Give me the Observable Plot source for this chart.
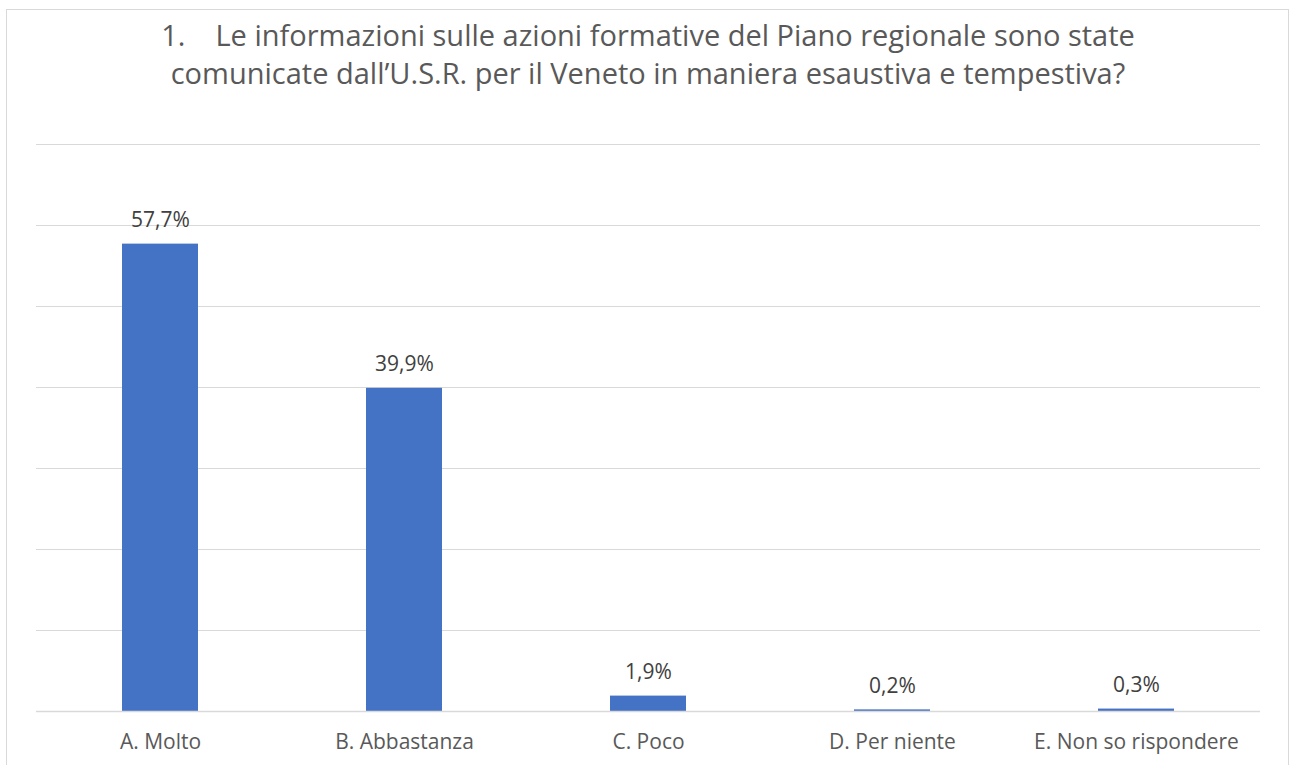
<!DOCTYPE html>
<html>
<head>
<meta charset="utf-8">
<script src="https://cdn.jsdelivr.net/npm/d3@7"></script>
<script src="https://cdn.jsdelivr.net/npm/@observablehq/plot@0.6"></script>
<style>
  html, body { margin: 0; padding: 0; background: #fff; width: 1292px; height: 765px; overflow: hidden; }
  #frame { position: absolute; left: 6px; top: 9px; width: 1283px; height: 800px; border: 1px solid #d9d9d9; box-sizing: border-box; }
  #title { position: absolute; left: 6px; top: 16px; width: 1284px; text-align: center; font-family: "Open Sans", sans-serif; font-size: 29px; line-height: 38px; color: #595959; white-space: pre; }
  #chart { position: absolute; left: 0; top: 130px; }
</style>
</head>
<body>
<div id="frame"></div>
<div id="title">1.    Le informazioni sulle azioni formative del Piano regionale sono state
comunicate dall’U.S.R. per il Veneto in maniera esaustiva e tempestiva?</div>
<div id="chart"></div>
<script>
const categories = ["A. Molto", "B. Abbastanza", "C. Poco", "D. Per niente", "E. Non so rispondere"];
const values = [57.7, 39.9, 1.9, 0.2, 0.3];
const yTicks = [0, 10, 20, 30, 40, 50, 60, 70];

const data = categories.map((c, i) => ({category: c, value: values[i]}));
const fmt = v => v.toFixed(1).replace(".", ",") + "%";

const chart = Plot.plot({
  width: 1292,
  height: 635,
  marginLeft: 36,
  marginRight: 32,
  marginTop: 14,
  marginBottom: 54,
  style: {fontFamily: "'Open Sans', sans-serif", fontSize: "21px", color: "#595959", background: "transparent"},
  x: {domain: categories, paddingInner: 0.69, paddingOuter: 0.345, label: null},
  y: {domain: [0, 70], ticks: yTicks, label: null, axis: null},
  marks: [
    Plot.gridY(yTicks, {stroke: "#d9d9d9", strokeOpacity: 1, strokeWidth: 1}),
    Plot.barY(data, {x: "category", y: "value", fill: "#4472C4"}),
    Plot.ruleY([0], {stroke: "#d9d9d9", strokeWidth: 1.5}),
    Plot.text(data, {x: "category", y: "value", text: d => fmt(d.value), dy: -24, fill: "#404040", fontSize: 21}),
    Plot.axisX({tickSize: 0, tickPadding: 23, fontSize: 21, fill: "#595959"})
  ]
});
document.getElementById("chart").appendChild(chart);
</script>
</body>
</html>
